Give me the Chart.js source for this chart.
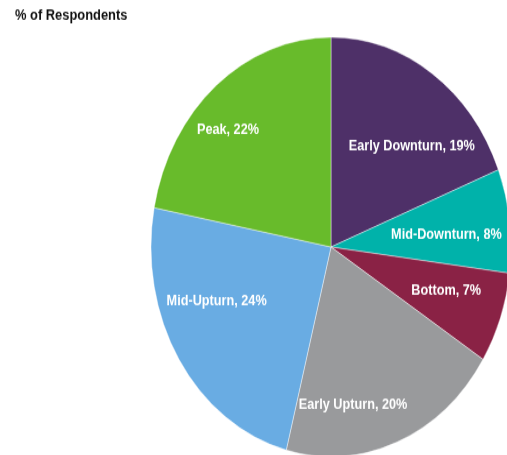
<!DOCTYPE html>
<html>
<head>
<meta charset="utf-8">
<script src="https://cdn.jsdelivr.net/npm/chart.js@4/dist/chart.umd.min.js"></script>
<style>
  html, body { margin: 0; padding: 0; width: 507px; height: 455px; overflow: hidden; background: #fff; }
  #wrap { position: absolute; left: 0; top: 0; transform: scaleY(1.165); transform-origin: 0 0; }
</style>
</head>
<body>
<div id="wrap"><canvas id="pie-chart" width="662" height="424"></canvas></div>
<script>
// data, clockwise from 12 o'clock
var stages = ['Early Downturn', 'Mid-Downturn', 'Bottom', 'Early Upturn', 'Mid-Upturn', 'Peak'];
var shares = [19, 8, 7, 20, 24, 22];
var sliceColors = ['#4e3068', '#00b2aa', '#8a2245', '#999a9c', '#69ace3', '#68bb2b'];
var chartTitle = '% of Respondents';

// small hand nudges so labels sit where the original put them
var labelNudge = [[12, 15], [-6, 5], [0, -4], [-23, 22], [-11, -19], [-25, -6]];

var sliceLabels = {
  id: 'sliceLabels',
  afterDatasetsDraw: function(chart) {
    var ctx = chart.ctx;
    var meta = chart.getDatasetMeta(0);
    ctx.save();
    ctx.font = 'bold 12.7px "Liberation Sans", Arial, sans-serif';
    ctx.fillStyle = '#ffffff';
    ctx.textAlign = 'center';
    ctx.textBaseline = 'middle';
    meta.data.forEach(function(arc, i) {
      var p = arc.getProps(['x', 'y', 'startAngle', 'endAngle', 'outerRadius'], true);
      var mid = (p.startAngle + p.endAngle) / 2;
      var r = p.outerRadius * 0.68;
      var tx = p.x + Math.cos(mid) * r + labelNudge[i][0];
      var ty = p.y + Math.sin(mid) * r + labelNudge[i][1];
      ctx.fillText(stages[i] + ', ' + shares[i] + '%', tx, ty);
    });
    // title top left
    ctx.fillStyle = '#111111';
    ctx.textAlign = 'left';
    ctx.font = 'bold 12.9px "Liberation Sans", Arial, sans-serif';
    ctx.fillText(chartTitle, 15, 13.5);
    ctx.restore();
  }
};

new Chart(document.getElementById('pie-chart'), {
  type: 'pie',
  data: {
    labels: stages,
    datasets: [{
      data: shares,
      backgroundColor: sliceColors,
      borderColor: 'rgba(255,255,255,0.55)',
      borderWidth: 0.75
    }]
  },
  options: {
    responsive: false,
    animation: false,
    events: [],
    radius: 180,
    layout: { padding: 0 },
    plugins: {
      legend: { display: false },
      tooltip: { enabled: false },
      title: { display: false }
    }
  },
  plugins: [sliceLabels]
});
</script>
</body>
</html>
